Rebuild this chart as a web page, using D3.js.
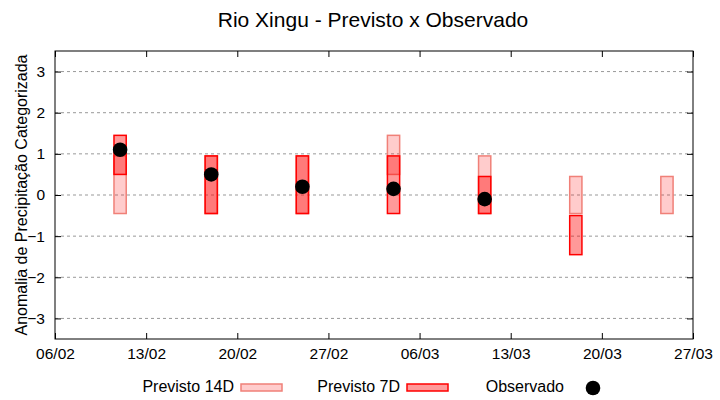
<!DOCTYPE html>
<html><head><meta charset="utf-8">
<script src="https://cdn.jsdelivr.net/npm/d3@7"></script>
<style>body{margin:0;background:#fff}svg{display:block}text{font-family:"Liberation Sans",Arial,sans-serif}</style>
</head><body><svg id="c" width="720" height="400"></svg>
<script>
const dates = ["2025-02-11","2025-02-18","2025-02-25","2025-03-04","2025-03-11","2025-03-18","2025-03-25"];
const prev14Low  = [-0.45,-0.45,-0.45, 0.5,-0.45,-0.45,-0.45];
const prev14High = [ 0.95, 0.95, 0.95,1.45, 0.95, 0.45, 0.45];
const prev7Low   = [ 0.5,-0.45,-0.45,-0.45,-0.45,-1.45,null];
const prev7High  = [ 1.45, 0.95, 0.95, 0.95, 0.45,-0.5,null];
const observed   = [ 1.1, 0.5, 0.2, 0.15,-0.1,null,null];
const yTicks = [-3,-2,-1,0,1,2,3];
const xTickDates = ["2025-02-06","2025-02-13","2025-02-20","2025-02-27","2025-03-06","2025-03-13","2025-03-20","2025-03-27"];

const parse = d3.utcParse("%Y-%m-%d");
const svg = d3.select("#c");
const L=55,R=693,T=51,B=339;
const x = d3.scaleUtc().domain([parse("2025-02-06"),parse("2025-03-27")]).range([L,R]);
const y = d3.scaleLinear().domain([-3.5,3.5]).range([B,T]);
const halfW = 0.47*86400000;

// grid
svg.append("g").selectAll("line").data(yTicks).join("line")
  .attr("x1",L).attr("x2",R).attr("y1",d=>y(d)).attr("y2",d=>y(d))
  .attr("stroke","#999").attr("stroke-width",1).attr("stroke-dasharray","3,3");

// axes
const fmt = d3.utcFormat("%d/%m");
const xt = xTickDates.map(parse);
const ax = svg.append("g").attr("transform",`translate(0,${B})`)
  .call(d3.axisBottom(x).tickValues(xt).tickFormat(fmt).tickSizeInner(-6).tickSizeOuter(0).tickPadding(9));
ax.select(".domain").remove();
ax.selectAll("text").attr("font-size",15.5).attr("fill","#000").attr("font-family","Liberation Sans, Arial, sans-serif");
const axTop = svg.append("g").attr("transform",`translate(0,${T})`)
  .call(d3.axisTop(x).tickValues(xt).tickFormat("").tickSizeInner(-6).tickSizeOuter(0));
axTop.select(".domain").remove();
const ay = svg.append("g").attr("transform",`translate(${L},0)`)
  .call(d3.axisLeft(y).tickValues(yTicks).tickFormat(d3.format("d")).tickSizeInner(-6).tickSizeOuter(0).tickPadding(10));
ay.select(".domain").remove();
ay.selectAll("text").attr("font-size",15.5).attr("fill","#000").attr("font-family","Liberation Sans, Arial, sans-serif");
const ayR = svg.append("g").attr("transform",`translate(${R},0)`)
  .call(d3.axisRight(y).tickValues(yTicks).tickFormat("").tickSizeInner(-6).tickSizeOuter(0));
ayR.select(".domain").remove();

// boxes
const idx = d3.range(dates.length);
svg.append("g").selectAll("rect").data(idx.filter(i=>prev14Low[i]!=null)).join("rect")
  .attr("x",i=>x(new Date(+parse(dates[i])-halfW)))
  .attr("width",i=>x(new Date(+parse(dates[i])+halfW))-x(new Date(+parse(dates[i])-halfW)))
  .attr("y",i=>y(prev14High[i])).attr("height",i=>y(prev14Low[i])-y(prev14High[i]))
  .attr("fill","rgba(255,0,0,0.2)").attr("stroke","#f08078").attr("stroke-width",1.5);
svg.append("g").selectAll("rect").data(idx.filter(i=>prev7Low[i]!=null)).join("rect")
  .attr("x",i=>x(new Date(+parse(dates[i])-halfW)))
  .attr("width",i=>x(new Date(+parse(dates[i])+halfW))-x(new Date(+parse(dates[i])-halfW)))
  .attr("y",i=>y(prev7High[i])).attr("height",i=>y(prev7Low[i])-y(prev7High[i]))
  .attr("fill","rgba(255,0,0,0.4)").attr("stroke","#ff0000").attr("stroke-width",1.5);
svg.append("g").selectAll("circle").data(idx.filter(i=>observed[i]!=null)).join("circle")
  .attr("cx",i=>x(parse(dates[i]))).attr("cy",i=>y(observed[i])).attr("r",7.3).attr("fill","#000");

// border
svg.append("rect").attr("x",L).attr("y",T).attr("width",R-L).attr("height",B-T)
  .attr("fill","none").attr("stroke","#000").attr("stroke-width",1);

// title
svg.append("text").attr("x",373).attr("y",27).attr("text-anchor","middle").attr("font-size",21)
  .text("Rio Xingu - Previsto x Observado");
svg.append("text").attr("transform",`translate(27,${(T+B)/2}) rotate(-90)`).attr("text-anchor","middle")
  .attr("font-size",16).text("Anomalia de Precipitação Categorizada");

// legend
const lg = svg.append("g").attr("font-size",16);
lg.append("text").attr("x",234).attr("y",392).attr("text-anchor","end").text("Previsto 14D");
lg.append("rect").attr("x",241).attr("y",384).attr("width",41).attr("height",7)
  .attr("fill","rgba(255,0,0,0.2)").attr("stroke","#f08078").attr("stroke-width",1.5);
lg.append("text").attr("x",400).attr("y",392).attr("text-anchor","end").text("Previsto 7D");
lg.append("rect").attr("x",407).attr("y",384).attr("width",41).attr("height",7)
  .attr("fill","rgba(255,0,0,0.4)").attr("stroke","#ff0000").attr("stroke-width",1.5);
lg.append("text").attr("x",564).attr("y",392).attr("text-anchor","end").text("Observado");
lg.append("circle").attr("cx",593).attr("cy",388).attr("r",7.3).attr("fill","#000");
</script></body></html>
